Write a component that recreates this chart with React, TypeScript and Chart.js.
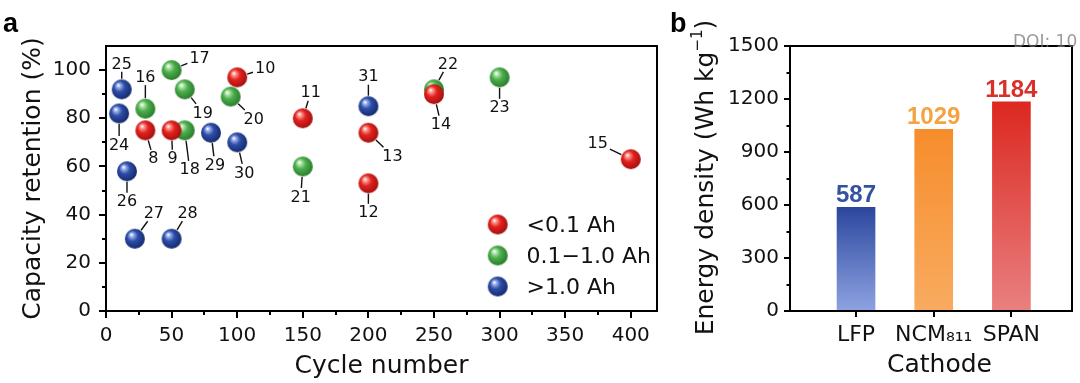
import React, { useEffect, useRef } from "react";
import { Chart, registerables } from "chart.js";

Chart.register(...registerables);

const FONT = "'DejaVu Sans', sans-serif";
const BOLD_FONT = "'Liberation Sans', Arial, sans-serif";

// ---------- Panel a data ----------
const seriesLabels = ["<0.1 Ah", "0.1\u22121.0 Ah", ">1.0 Ah"];

const redIds = [8, 9, 10, 11, 12, 13, 14, 15];
const redCycles = [30, 50, 100, 150, 200, 200, 250, 400];
const redRetention = [75, 75, 97, 80, 53, 74, 90, 63];

const greenIds = [16, 17, 18, 19, 20, 21, 22, 23];
const greenCycles = [30, 50, 60, 60, 95, 150, 250, 300];
const greenRetention = [84, 100, 75, 92, 89, 60, 92, 97];

const blueIds = [24, 25, 26, 27, 28, 29, 30, 31];
const blueCycles = [10, 12, 16, 22, 50, 80, 100, 200];
const blueRetention = [82, 92, 58, 30, 30, 74, 70, 85];

const xTicksA = [0, 50, 100, 150, 200, 250, 300, 350, 400];
const yTicksA = [0, 20, 40, 60, 80, 100];

// ---------- Panel b data ----------
const cathodes = ["LFP", "NCM\u2088\u2081\u2081", "SPAN"];
const energyDensity = [587, 1029, 1184];
const yTicksB = [0, 300, 600, 900, 1200, 1500];

// ---------- styling / annotation layout ----------
const labelOffsets: Record<number, [number, number]> = {
  8: [8, 28], 9: [1, 28], 10: [28, -9], 11: [8, -26], 12: [0, 29], 13: [24, 23], 14: [7, 30], 15: [-33, -16],
  16: [0, -32], 17: [28, -12], 18: [5, 39], 19: [18, 23], 20: [23, 22], 21: [-2, 30], 22: [14, -26], 23: [0, 30],
  24: [0, 31], 25: [0, -26], 26: [0, 30], 27: [19, -26], 28: [16, -26], 29: [4, 32], 30: [7, 30], 31: [0, -30],
};

const ballColors = [
  { light: "#ff9a90", base: "#e32220", dark: "#a0100e" },
  { light: "#b4e6ac", base: "#4caf4c", dark: "#2a782a" },
  { light: "#9db2ee", base: "#2d4ea8", dark: "#15286a" },
];

const barTop = ["#2b479d", "#f68d2c", "#dc2820"];
const barBottom = ["#8ea3e2", "#f9ab60", "#e98080"];
const valueColors = ["#34529f", "#f5a342", "#d8302a"];

const BALL_SIZE = 22;

function makeBall(c: { light: string; base: string; dark: string }, r: number) {
  const size = BALL_SIZE;
  const cv = document.createElement("canvas");
  cv.width = size;
  cv.height = size;
  const g = cv.getContext("2d")!;
  const cx = size / 2, cy = size / 2;
  const grad = g.createRadialGradient(cx - r * 0.35, cy - r * 0.42, r * 0.04, cx - r * 0.1, cy - r * 0.1, r * 1.15);
  grad.addColorStop(0, "#ffffff");
  grad.addColorStop(0.14, c.light);
  grad.addColorStop(0.45, c.base);
  grad.addColorStop(1, c.dark);
  g.fillStyle = grad;
  g.beginPath();
  g.arc(cx, cy, r, 0, Math.PI * 2);
  g.fill();
  return cv;
}

function drawTicksX(ctx: CanvasRenderingContext2D, scale: any, bottom: number, values: number[], len: number) {
  values.forEach((v) => {
    const x = Math.round(scale.getPixelForValue(v));
    ctx.beginPath();
    ctx.moveTo(x, bottom);
    ctx.lineTo(x, bottom + len);
    ctx.stroke();
  });
}
function drawTicksY(ctx: CanvasRenderingContext2D, scale: any, left: number, values: number[], len: number) {
  values.forEach((v) => {
    const y = Math.round(scale.getPixelForValue(v));
    ctx.beginPath();
    ctx.moveTo(left, y);
    ctx.lineTo(left - len, y);
    ctx.stroke();
  });
}

export default function App() {
  const refA = useRef<HTMLCanvasElement>(null);
  const refB = useRef<HTMLCanvasElement>(null);

  useEffect(() => {
    const balls = ballColors.map((c) => makeBall(c, 10));
    const idLists = [redIds, greenIds, blueIds];

    const plugA = {
      id: "panelA",
      afterDatasetsDraw(chart: any) {
        const ctx: CanvasRenderingContext2D = chart.ctx;
        const area = chart.chartArea;
        const xs = chart.scales.x, ys = chart.scales.y;
        ctx.save();
        // frame
        ctx.strokeStyle = "#000";
        ctx.lineWidth = 2;
        ctx.strokeRect(area.left, area.top, area.right - area.left, area.bottom - area.top);
        // ticks
        ctx.lineWidth = 2;
        drawTicksX(ctx, xs, area.bottom, xTicksA, 7);
        drawTicksX(ctx, xs, area.bottom, xTicksA.slice(0, -1).map((v, i) => (v + xTicksA[i + 1]) / 2), 4);
        drawTicksY(ctx, ys, area.left, yTicksA, 7);
        drawTicksY(ctx, ys, area.left, yTicksA.slice(0, -1).map((v, i) => (v + yTicksA[i + 1]) / 2), 4);

        // point labels with leader lines
        ctx.font = `16px ${FONT}`;
        ctx.fillStyle = "#111";
        ctx.strokeStyle = "#111";
        ctx.lineWidth = 1.4;
        ctx.textAlign = "center";
        ctx.textBaseline = "middle";
        chart.data.datasets.forEach((_: any, di: number) => {
          const meta = chart.getDatasetMeta(di);
          meta.data.forEach((el: any, i: number) => {
            const id = idLists[di][i];
            const off = labelOffsets[id];
            if (!off) return;
            const [dx, dy] = off;
            const d = Math.hypot(dx, dy);
            const ux = dx / d, uy = dy / d;
            const txt = String(id);
            const hw = ctx.measureText(txt).width / 2 + 2;
            const hh = 6 + 2.5;
            const t = Math.min(ux ? hw / Math.abs(ux) : Infinity, uy ? hh / Math.abs(uy) : Infinity);
            const start = 10.5, end = d - t;
            if (end > start + 1) {
              ctx.beginPath();
              ctx.moveTo(el.x + ux * start, el.y + uy * start);
              ctx.lineTo(el.x + ux * end, el.y + uy * end);
              ctx.stroke();
            }
            ctx.fillText(txt, el.x + dx, el.y + dy + 1);
          });
        });

        // legend
        ctx.font = `22px ${FONT}`;
        ctx.textAlign = "left";
        ctx.textBaseline = "middle";
        ctx.fillStyle = "#111";
        chart.data.datasets.forEach((ds: any, di: number) => {
          const ly = 224.5 + di * 31;
          ctx.drawImage(balls[di], 497.7 - BALL_SIZE / 2, ly - BALL_SIZE / 2);
          ctx.fillText(ds.label, 526.5, ly + 1.5);
        });

        // axis titles
        ctx.fillStyle = "#111";
        ctx.font = `25px ${FONT}`;
        ctx.textAlign = "center";
        ctx.textBaseline = "alphabetic";
        ctx.fillText("Cycle number", (area.left + area.right) / 2, 373);
        ctx.save();
        ctx.translate(39.5, (area.top + area.bottom) / 2);
        ctx.rotate(-Math.PI / 2);
        ctx.fillText("Capacity retention (%)", 0, 0);
        ctx.restore();

        // panel letter
        ctx.font = `bold 27px ${BOLD_FONT}`;
        ctx.textAlign = "left";
        ctx.fillStyle = "#000";
        ctx.fillText("a", 3, 32);
        ctx.restore();
      },
    };

    const tickFont = { family: FONT, size: 20 };

    const chartA = new Chart(refA.current!, {
      type: "scatter",
      data: {
        datasets: [
          {
            label: seriesLabels[0],
            data: redCycles.map((x, i) => ({ x, y: redRetention[i] })),
            pointStyle: balls[0] as any,
            radius: 10,
            backgroundColor: ballColors[0].base,
          },
          {
            label: seriesLabels[1],
            data: greenCycles.map((x, i) => ({ x, y: greenRetention[i] })),
            pointStyle: balls[1] as any,
            radius: 10,
            backgroundColor: ballColors[1].base,
          },
          {
            label: seriesLabels[2],
            data: blueCycles.map((x, i) => ({ x, y: blueRetention[i] })),
            pointStyle: balls[2] as any,
            radius: 10,
            backgroundColor: ballColors[2].base,
          },
        ],
      },
      options: {
        responsive: false,
        animation: false,
        devicePixelRatio: 1,
        layout: { padding: { top: 46, right: 6, left: 0, bottom: 0 } },
        plugins: { legend: { display: false }, tooltip: { enabled: false } },
        scales: {
          x: {
            type: "linear",
            min: 0,
            max: 420,
            afterBuildTicks: (s: any) => {
              s.ticks = xTicksA.map((v) => ({ value: v }));
            },
            afterFit: (s: any) => {
              s.height = 72;
            },
            grid: { display: false, drawTicks: false },
            border: { display: false },
            ticks: {
              padding: 13,
              font: tickFont,
              color: "#111",
              maxRotation: 0,
              autoSkip: false,
              callback: (v: any) => String(v),
            },
          },
          y: {
            type: "linear",
            min: 0,
            max: 110,
            afterBuildTicks: (s: any) => {
              s.ticks = yTicksA.map((v) => ({ value: v }));
            },
            afterFit: (s: any) => {
              s.width = 106;
            },
            grid: { display: false, drawTicks: false },
            border: { display: false },
            ticks: { padding: 15, font: tickFont, color: "#111", callback: (v: any) => String(v) },
          },
        },
      },
      plugins: [plugA],
    } as any);

    const plugB = {
      id: "panelB",
      afterDatasetsDraw(chart: any) {
        const ctx: CanvasRenderingContext2D = chart.ctx;
        const area = chart.chartArea;
        const xs = chart.scales.x, ys = chart.scales.y;
        ctx.save();
        ctx.strokeStyle = "#000";
        ctx.lineWidth = 2;
        ctx.strokeRect(area.left, area.top, area.right - area.left, area.bottom - area.top);
        drawTicksX(ctx, xs, area.bottom, cathodes.map((_, i) => i), 6);
        drawTicksY(ctx, ys, area.left, yTicksB, 6);
        drawTicksY(ctx, ys, area.left, yTicksB.slice(0, -1).map((v, i) => (v + yTicksB[i + 1]) / 2), 3.5);

        // value labels
        ctx.font = `bold 24px ${BOLD_FONT}`;
        ctx.textAlign = "center";
        ctx.textBaseline = "alphabetic";
        const meta = chart.getDatasetMeta(0);
        meta.data.forEach((el: any, i: number) => {
          ctx.fillStyle = valueColors[i];
          ctx.fillText(String(energyDensity[i]), el.x, el.y - 5);
        });

        // titles
        ctx.fillStyle = "#111";
        ctx.font = `25px ${FONT}`;
        ctx.textAlign = "center";
        ctx.fillText("Cathode", 271.5, 372);

        ctx.save();
        ctx.translate(45.3, (area.top + area.bottom) / 2 - 1);
        ctx.rotate(-Math.PI / 2);
        const main = "Energy density (Wh kg";
        const sup = "\u22121";
        const close = ")";
        ctx.font = `25px ${FONT}`;
        const wMain = ctx.measureText(main).width;
        const wClose = ctx.measureText(close).width;
        ctx.font = `15px ${FONT}`;
        const wSup = ctx.measureText(sup).width;
        const total = wMain + wSup + wClose;
        let x0 = -total / 2;
        ctx.textAlign = "left";
        ctx.font = `25px ${FONT}`;
        ctx.fillText(main, x0, 0);
        x0 += wMain;
        ctx.font = `15px ${FONT}`;
        ctx.fillText(sup, x0, -11);
        x0 += wSup;
        ctx.font = `25px ${FONT}`;
        ctx.fillText(close, x0, 0);
        ctx.restore();

        // panel letter
        ctx.font = `bold 27px ${BOLD_FONT}`;
        ctx.textAlign = "left";
        ctx.fillStyle = "#000";
        ctx.fillText("b", 2, 32);

        // watermark
        ctx.font = `17px ${FONT}`;
        ctx.fillStyle = "rgba(120,120,120,0.75)";
        ctx.fillText("DOI: 10", 345, 47);
        ctx.restore();
      },
    };

    const chartB = new Chart(refB.current!, {
      type: "bar",
      data: {
        datasets: [
          {
            label: "Energy density",
            data: cathodes.map((_, i) => ({ x: i, y: energyDensity[i] })),
            barThickness: 38,
            borderWidth: 0,
            backgroundColor: (c: any) => {
              const i = c.dataIndex;
              if (i === undefined) return barTop[0];
              const chart = c.chart;
              const ys = chart.scales && chart.scales.y;
              if (!chart.chartArea || !ys) return barTop[i];
              const top = ys.getPixelForValue(energyDensity[i]);
              const bot = ys.getPixelForValue(0);
              const g = chart.ctx.createLinearGradient(0, top, 0, bot);
              g.addColorStop(0, barTop[i]);
              g.addColorStop(1, barBottom[i]);
              return g;
            },
          },
        ],
      },
      options: {
        responsive: false,
        animation: false,
        devicePixelRatio: 1,
        layout: { padding: { top: 46, right: 8, left: 0, bottom: 0 } },
        plugins: { legend: { display: false }, tooltip: { enabled: false } },
        scales: {
          x: {
            type: "linear",
            min: -0.85,
            max: 2.78,
            offset: false,
            afterBuildTicks: (s: any) => {
              s.ticks = cathodes.map((_, i) => ({ value: i }));
            },
            afterFit: (s: any) => {
              s.height = 72;
            },
            grid: { display: false, drawTicks: false },
            border: { display: false },
            ticks: {
              padding: 11,
              font: { family: FONT, size: 22 },
              color: "#111",
              maxRotation: 0,
              autoSkip: false,
              callback: (v: any) => cathodes[v] ?? "",
            },
          },
          y: {
            type: "linear",
            min: 0,
            max: 1500,
            afterBuildTicks: (s: any) => {
              s.ticks = yTicksB.map((v) => ({ value: v }));
            },
            afterFit: (s: any) => {
              s.width = 122;
            },
            grid: { display: false, drawTicks: false },
            border: { display: false },
            ticks: { padding: 11, font: tickFont, color: "#111", callback: (v: any) => String(v) },
          },
        },
      },
      plugins: [plugB],
    } as any);

    return () => {
      chartA.destroy();
      chartB.destroy();
    };
  }, []);

  return (
    <div style={{ position: "fixed", left: 0, top: 0, width: 1080, height: 383, background: "#fff" }}>
      <canvas
        ref={refA}
        width={668}
        height={383}
        style={{ position: "absolute", left: 0, top: 0, width: 668, height: 383 }}
      />
      <canvas
        ref={refB}
        width={412}
        height={383}
        style={{ position: "absolute", left: 668, top: 0, width: 412, height: 383 }}
      />
    </div>
  );
}
